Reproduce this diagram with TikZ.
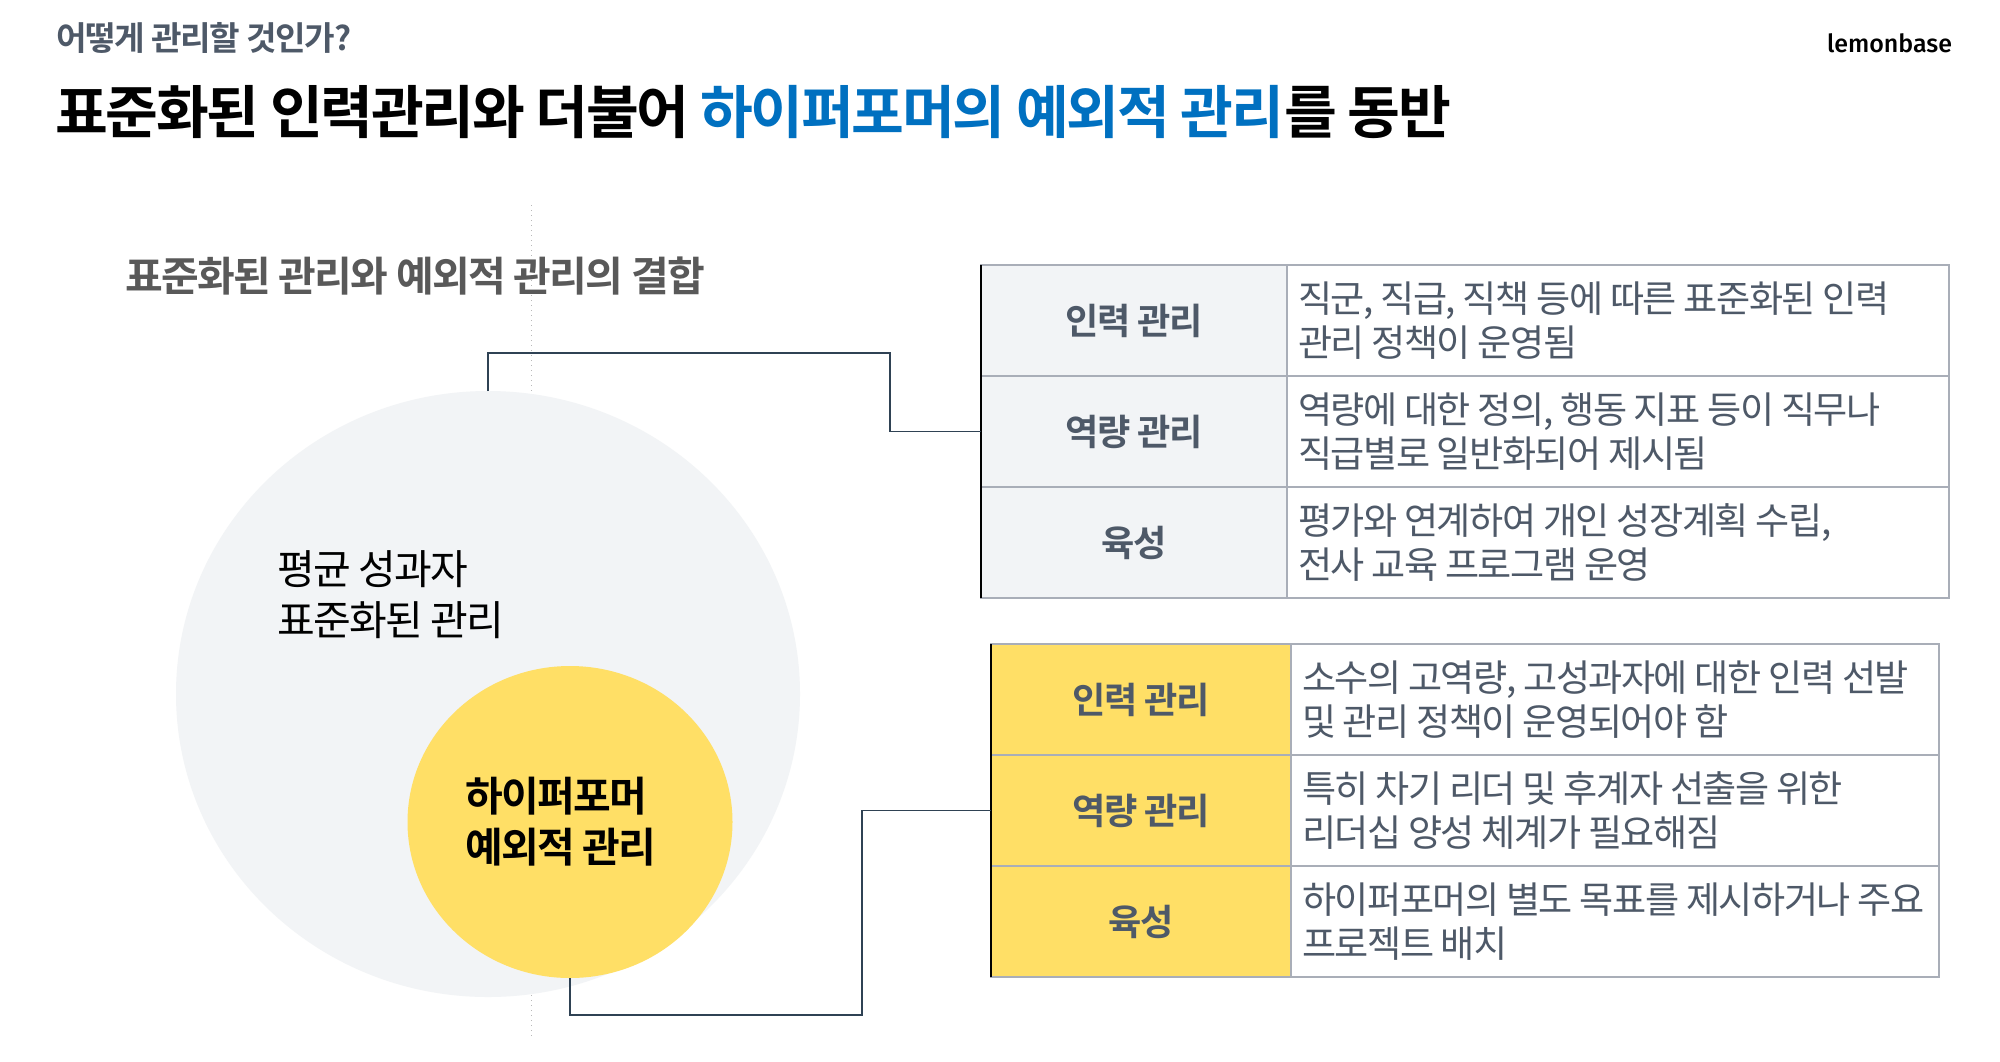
\documentclass[tikz,border=0pt]{standalone}
\usepackage{fontspec}
\usetikzlibrary{shapes.geometric}
\setmainfont{Noto Sans CJK KR}[BoldFont={Noto Sans CJK KR Bold},LetterSpace=-4]
\newfontfamily\descfont{Noto Sans CJK KR}[LetterSpace=-4]
\newfontfamily\logofont{Fira Sans Medium}
\definecolor{cellgrey}{HTML}{F2F4F6}
\definecolor{cellyellow}{HTML}{FFDF66}
\definecolor{rulegrey}{HTML}{A9AEB8}
\definecolor{bodytext}{HTML}{4E5968}
\definecolor{headgrey}{HTML}{595959}
\definecolor{linkblue}{HTML}{0070C0}
\definecolor{linkdark}{HTML}{2F4254}
\definecolor{dotgrey}{HTML}{B8B8B8}
\tikzset{
  labelcell/.style n args={2}{draw=rulegrey,line width=0.75pt,fill=#2,inner sep=0pt,outer sep=0pt,anchor=north west,
    minimum width=#1*0.5pt,minimum height=55.5pt,font=\bfseries\fontsize{18.1}{22}\selectfont,text=bodytext},
  desccell/.style={draw=rulegrey,line width=0.75pt,fill=white,inner xsep=5.5pt,inner ysep=0pt,outer sep=0pt,anchor=north west,
    minimum width=#1*0.5pt,text width=#1*0.5pt-11pt,minimum height=55.5pt,align=flush left,
    font=\descfont\fontsize{18.55}{22}\selectfont,text=bodytext},
  link/.style={draw=linkdark,line width=0.75pt},
  edgeline/.style={draw=black,line width=1pt},
  plain/.style={inner sep=0pt,outer sep=0pt,anchor=base west},
}
\begin{document}
\begin{tikzpicture}[x=0.5pt,y=-0.5pt]
\useasboundingbox (0,0) rectangle (2000,1061);
\fill[white] (0,0) rectangle (2000,1061);
\coordinate (dottop) at (531,205);
\coordinate (dotbot) at (531,1037);
\draw[dotgrey,line width=0.5pt,dotted] (dottop) -- (dotbot);

\node[plain,text=bodytext,font=\bfseries\fontsize{16.6}{18}\selectfont] (kicker) at (56,50) {어떻게 관리할 것인가?};
\node[plain,font=\bfseries\fontsize{28.7}{34}\selectfont] (title) at (55,133) {표준화된 인력관리와 더불어 \textcolor{linkblue}{하이퍼포머의 예외적 관리}를 동반};
\node[plain,font=\logofont\fontsize{12.5}{14}\selectfont] (logo) at (1827,52) {lemonbase};
\node[plain,text=headgrey,font=\bfseries\fontsize{20.5}{24}\selectfont] (head) at (125,291) {표준화된 관리와 예외적 관리의 결합};

\node[ellipse,fill=cellgrey,inner sep=0pt,outer sep=0pt,minimum width=312pt,minimum height=303pt] (big) at (488,694) {};
\node[ellipse,fill=cellyellow,inner sep=0pt,outer sep=0pt,minimum width=162.5pt,minimum height=156pt] (small) at (570,822) {};
\node[plain,align=left,font=\fontsize{20.5}{25.5}\selectfont,anchor=north west] (avg) at (277,551) {평균 성과자\\표준화된 관리};
\node[plain,align=left,font=\bfseries\fontsize{20.5}{25.5}\selectfont,anchor=north west] (hp) at (465,777) {하이퍼포머\\예외적 관리};

% upper table
\node[labelcell={306}{cellgrey}] (a1) at (981,265) {인력 관리};
\node[labelcell={306}{cellgrey}] (a2) at (981,376) {역량 관리};
\node[labelcell={306}{cellgrey}] (a3) at (981,487) {육성};
\node[desccell=662] (b1) at (1287,265) {직군, 직급, 직책 등에 따른 표준화된 인력\\관리 정책이 운영됨};
\node[desccell=662] (b2) at (1287,376) {역량에 대한 정의, 행동 지표 등이 직무나\\직급별로 일반화되어 제시됨};
\node[desccell=662] (b3) at (1287,487) {평가와 연계하여 개인 성장계획 수립,\\전사 교육 프로그램 운영};
\draw[edgeline] (a1.north west) -- (a3.south west);

% lower table
\node[labelcell={300}{cellyellow}] (c1) at (991,644) {인력 관리};
\node[labelcell={300}{cellyellow}] (c2) at (991,755) {역량 관리};
\node[labelcell={300}{cellyellow}] (c3) at (991,866) {육성};
\node[desccell=648] (d1) at (1291,644) {소수의 고역량, 고성과자에 대한 인력 선발\\및 관리 정책이 운영되어야 함};
\node[desccell=648] (d2) at (1291,755) {특히 차기 리더 및 후계자 선출을 위한\\리더십 양성 체계가 필요해짐};
\node[desccell=648] (d3) at (1291,866) {하이퍼포머의 별도 목표를 제시하거나 주요\\프로젝트 배치};
\draw[edgeline] (c1.north west) -- (c3.south west);

\coordinate (bendA) at (890,353);
\coordinate (bendB) at (862,1015);
\draw[link] (big.north) |- (bendA) |- (a2.west);
\draw[link] (small.south) |- (bendB) |- (c2.west);
\end{tikzpicture}
\end{document}
